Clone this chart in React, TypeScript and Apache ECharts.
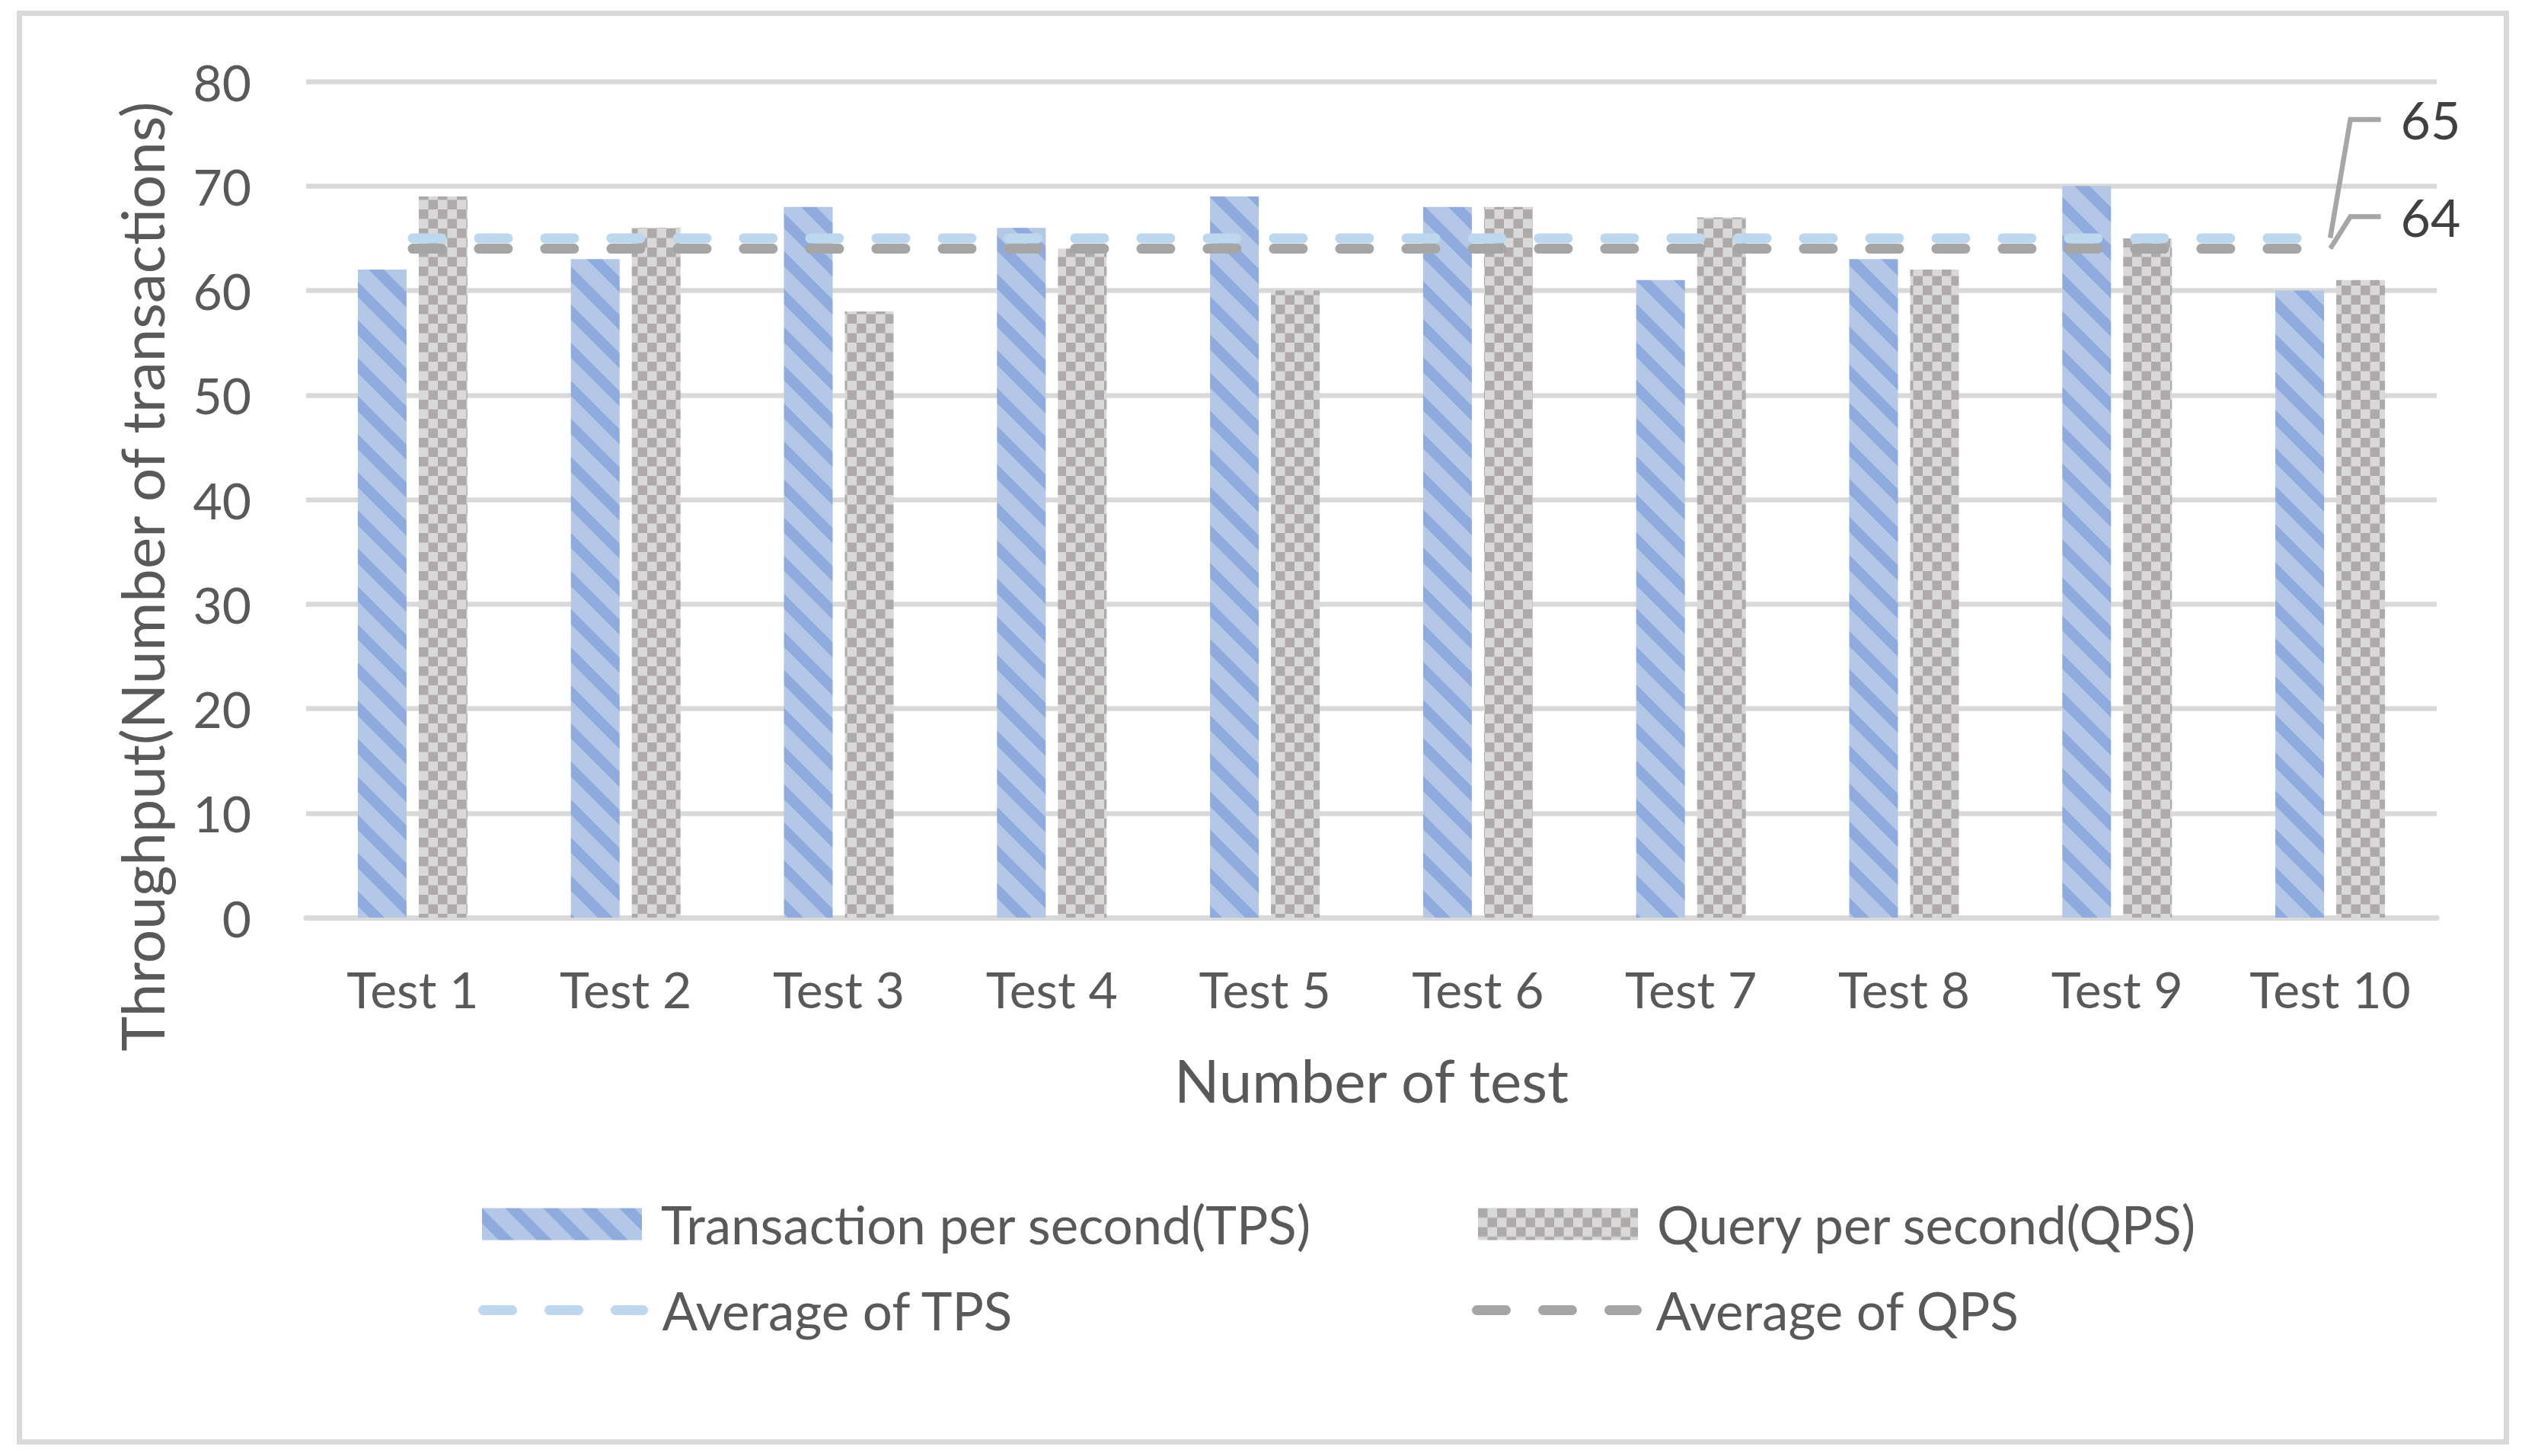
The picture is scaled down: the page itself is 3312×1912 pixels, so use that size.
import React, { useEffect, useRef } from 'react';
import * as echarts from 'echarts';

const categories = ['Test 1', 'Test 2', 'Test 3', 'Test 4', 'Test 5', 'Test 6', 'Test 7', 'Test 8', 'Test 9', 'Test 10'];
const tpsValues = [62, 63, 68, 66, 69, 68, 61, 63, 70, 60];
const qpsValues = [69, 66, 58, 64, 60, 68, 67, 62, 65, 61];
const tpsAverage = [65, 65, 65, 65, 65, 65, 65, 65, 65, 65];
const qpsAverage = [64, 64, 64, 64, 64, 64, 64, 64, 64, 64];
const seriesNames = ['Transaction per second(TPS)', 'Query per second(QPS)', 'Average of TPS', 'Average of QPS'];
const xAxisTitle = 'Number of test';
const yAxisTitle = 'Throughput(Number of transactions)';
const yMin = 0;
const yMax = 80;
const yInterval = 10;

const FONT = 'Lato, "Noto Sans", sans-serif';
const TEXT = '#595959';
const GRID = '#d9d9d9';

function stripeTile(): HTMLCanvasElement {
  const c = document.createElement('canvas');
  c.width = 50;
  c.height = 50;
  const g = c.getContext('2d')!;
  g.fillStyle = '#b4c7e7';
  g.fillRect(0, 0, 50, 50);
  g.fillStyle = '#8faadc';
  for (const k of [-50, 0, 50]) {
    g.beginPath();
    g.moveTo(0, k);
    g.lineTo(50, k + 50);
    g.lineTo(50, k + 70);
    g.lineTo(0, k + 20);
    g.closePath();
    g.fill();
  }
  return c;
}

function checkerTile(): HTMLCanvasElement {
  const c = document.createElement('canvas');
  c.width = 25;
  c.height = 25;
  const g = c.getContext('2d')!;
  g.fillStyle = '#d9d9d9';
  g.fillRect(0, 0, 25, 25);
  g.fillStyle = '#aeaaaa';
  g.fillRect(0, 0, 12.5, 12.5);
  g.fillRect(12.5, 12.5, 12.5, 12.5);
  return c;
}

function avgSeries(name: string, values: number[], color: string, dy: number) {
  return {
    name,
    type: 'line',
    symbol: 'none',
    data: values.map((v, i) =>
      i === values.length - 1
        ? { value: v, symbol: 'circle', symbolSize: 1, label: { show: true } }
        : v
    ),
    lineStyle: { color, width: 13, type: [38, 49], cap: 'round' },
    itemStyle: { color },
    label: {
      show: false,
      position: 'right',
      distance: 0,
      formatter: '{c}',
      fontSize: 68,
      fontFamily: FONT,
      color: '#404040',
      padding: [0, 400, 0, 26],
      backgroundColor: 'rgba(255,255,255,0)',
    },
    labelLine: { show: true, length2: 40, lineStyle: { color: '#a6a6a6', width: 6.5 } },
    labelLayout: { dx: 66, dy },
    z: 3,
    silent: true,
  };
}

export default function App() {
  const ref = useRef<HTMLDivElement>(null);
  useEffect(() => {
    document.body.style.margin = '0';
    if (!ref.current) return;
    const chart = echarts.init(ref.current, undefined, { renderer: 'svg' });
    const stripes = { image: stripeTile(), repeat: 'repeat', imageWidth: 50, imageHeight: 50 };
    const checker = { image: checkerTile(), repeat: 'repeat', imageWidth: 25, imageHeight: 25 };

    const legendText = { fontSize: 69, fontFamily: FONT, color: TEXT, lineHeight: 42, padding: [0, 0, 0, 20] };
    const lineLegend = (name: string, left: number, color: string) => ({
      data: [name],
      left,
      top: 1686,
      orient: 'horizontal',
      padding: 0,
      itemWidth: 210,
      itemHeight: 42,
      selectedMode: false,
      itemStyle: { opacity: 0 },
      lineStyle: { width: 13, type: [38, 49], cap: 'round', color },
      textStyle: legendText,
    });
    const barLegend = (name: string, left: number) => ({
      data: [name],
      left,
      top: 1573,
      orient: 'horizontal',
      padding: 0,
      icon: 'rect',
      itemWidth: 210,
      itemHeight: 42,
      selectedMode: false,
      textStyle: legendText,
    });

    chart.setOption({
      animation: false,
      backgroundColor: '#ffffff',
      textStyle: { fontFamily: FONT },
      grid: { left: 402, right: 112, top: 107, bottom: 707, containLabel: false },
      legend: [
        barLegend(seriesNames[0], 633),
        barLegend(seriesNames[1], 1941),
        lineLegend(seriesNames[2], 628, '#bdd7ee'),
        lineLegend(seriesNames[3], 1933, '#a5a5a5'),
      ],
      xAxis: {
        type: 'category',
        data: categories,
        axisLine: { show: true, lineStyle: { color: GRID, width: 7 } },
        axisTick: { show: false },
        axisLabel: { fontSize: 66, fontFamily: FONT, color: TEXT, margin: 60 },
        name: xAxisTitle,
        nameLocation: 'middle',
        nameGap: 174,
        nameTextStyle: { fontSize: 78, fontFamily: FONT, color: TEXT },
      },
      yAxis: {
        type: 'value',
        min: yMin,
        max: yMax,
        interval: yInterval,
        axisLine: { show: false },
        axisTick: { show: false },
        axisLabel: { fontSize: 66, fontFamily: FONT, color: TEXT, margin: 72 },
        splitLine: { show: true, lineStyle: { color: GRID, width: 6.5 } },
      },
      graphic: [
        {
          type: 'rect',
          silent: true,
          z: -10,
          shape: { x: 25.5, y: 17.5, width: 3266, height: 1876 },
          style: { fill: 'none', stroke: GRID, lineWidth: 7 },
        },
        {
          type: 'text',
          silent: true,
          x: 186,
          y: 757,
          rotation: Math.PI / 2,
          style: {
            text: yAxisTitle,
            fontSize: 78,
            fontFamily: FONT,
            fill: TEXT,
            align: 'center',
            verticalAlign: 'middle',
          },
        },
      ],
      series: [
        {
          name: seriesNames[0],
          type: 'bar',
          data: tpsValues,
          barWidth: 64,
          barGap: '25%',
          itemStyle: { color: stripes },
          silent: true,
        },
        {
          name: seriesNames[1],
          type: 'bar',
          data: qpsValues,
          barWidth: 64,
          barGap: '25%',
          itemStyle: { color: checker },
          silent: true,
        },
        avgSeries(seriesNames[2], tpsAverage, '#bdd7ee', -156),
        avgSeries(seriesNames[3], qpsAverage, '#a5a5a5', -42),
      ],
    });
    return () => chart.dispose();
  }, []);
  return <div ref={ref} style={{ width: 3312, height: 1912 }} />;
}
